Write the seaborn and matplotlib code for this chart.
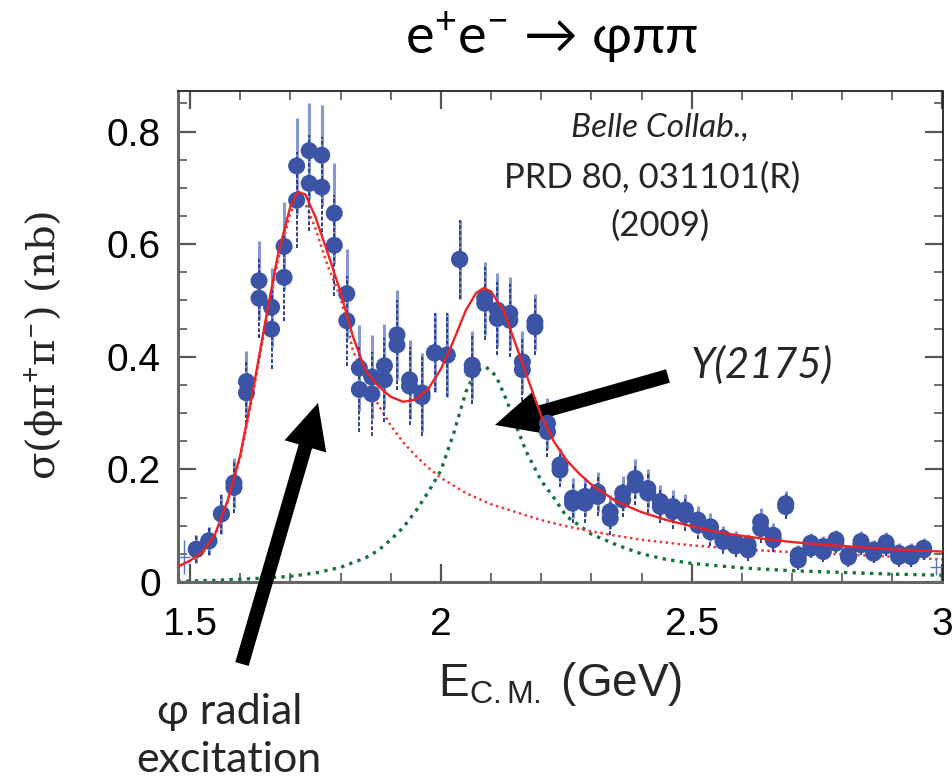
import numpy as np
import pandas as pd
import matplotlib
matplotlib.use("Agg")
import matplotlib.pyplot as plt
from matplotlib.ticker import MultipleLocator, FixedLocator, FuncFormatter
from matplotlib import font_manager
import seaborn as sns

# ---------------- data ----------------
E_bins = [1.5125, 1.5375, 1.5625, 1.5875, 1.6125, 1.6375, 1.6625, 1.6875, 1.7125, 1.7375,
          1.7625, 1.7875, 1.8125, 1.8375, 1.8625, 1.8875, 1.9125, 1.9375, 1.9625, 1.9875,
          2.0125, 2.0375, 2.0625, 2.0875, 2.1125, 2.1375, 2.1625, 2.1875, 2.2125, 2.2375,
          2.2625, 2.2875, 2.3125, 2.3375, 2.3625, 2.3875, 2.4125, 2.4375, 2.4625, 2.4875,
          2.5125, 2.5375, 2.5625, 2.5875, 2.6125, 2.6375, 2.6625, 2.6875, 2.7125, 2.7375,
          2.7625, 2.7875, 2.8125, 2.8375, 2.8625, 2.8875, 2.9125, 2.9375, 2.9625]
sigma_upper = [0.058, 0.073, 0.121, 0.176, 0.356, 0.535, 0.488, 0.596, 0.739, 0.766,
               0.758, 0.655, 0.512, 0.380, 0.364, 0.384, 0.439, 0.359, 0.336, 0.407,
               0.403, 0.573, 0.385, 0.504, 0.483, 0.477, 0.391, 0.462, 0.282, 0.208,
               0.149, 0.152, 0.160, 0.125, 0.158, 0.184, 0.166, 0.143, 0.134, 0.128,
               0.110, 0.098, 0.078, 0.070, 0.066, 0.107, 0.083, 0.139, 0.048, 0.069,
               0.063, 0.075, 0.048, 0.072, 0.057, 0.070, 0.051, 0.051, 0.060]
sigma_lower = [0.058, 0.073, 0.121, 0.168, 0.336, 0.504, 0.449, 0.541, 0.678, 0.708,
               0.701, 0.598, 0.464, 0.342, 0.334, 0.359, 0.421, 0.348, 0.329, 0.407,
               0.403, 0.573, 0.377, 0.495, 0.468, 0.465, 0.377, 0.453, 0.267, 0.199,
               0.140, 0.140, 0.152, 0.113, 0.146, 0.172, 0.158, 0.134, 0.125, 0.119,
               0.101, 0.089, 0.072, 0.064, 0.057, 0.095, 0.075, 0.134, 0.039, 0.060,
               0.054, 0.069, 0.044, 0.066, 0.051, 0.064, 0.045, 0.045, 0.057]
sigma_err = [0.025, 0.025, 0.035, 0.045, 0.055, 0.070, 0.070, 0.078, 0.085, 0.085,
             0.090, 0.090, 0.080, 0.076, 0.075, 0.075, 0.080, 0.070, 0.070, 0.070,
             0.075, 0.070, 0.060, 0.065, 0.065, 0.065, 0.055, 0.050, 0.045, 0.030,
             0.035, 0.035, 0.035, 0.030, 0.030, 0.035, 0.035, 0.030, 0.030, 0.028,
             0.025, 0.025, 0.022, 0.020, 0.020, 0.025, 0.022, 0.022, 0.018, 0.018,
             0.018, 0.018, 0.018, 0.018, 0.018, 0.018, 0.018, 0.018, 0.018]
E_edge = [1.4875, 2.9875]
sigma_edge = [0.045, 0.027]
err_edge = [0.030, 0.015]

# total fit (red solid)
fit_E = [1.475, 1.50, 1.525, 1.55, 1.575, 1.60, 1.625, 1.65, 1.675, 1.70, 1.715, 1.73, 1.75,
         1.775, 1.80, 1.825, 1.85, 1.875, 1.90, 1.925, 1.95, 1.975, 2.00, 2.025, 2.05, 2.07,
         2.085, 2.10, 2.125, 2.15, 2.175, 2.20, 2.225, 2.25, 2.275, 2.30, 2.35, 2.40, 2.45,
         2.50, 2.55, 2.60, 2.65, 2.70, 2.75, 2.80, 2.85, 2.90, 2.95, 3.00]
fit_total = [0.027, 0.038, 0.053, 0.085, 0.145, 0.225, 0.338, 0.462, 0.580, 0.667, 0.693, 0.688,
             0.648, 0.583, 0.515, 0.435, 0.375, 0.348, 0.329, 0.320, 0.324, 0.343, 0.378, 0.428,
             0.483, 0.513, 0.522, 0.516, 0.482, 0.420, 0.357, 0.295, 0.250, 0.217, 0.193, 0.173,
             0.143, 0.124, 0.110, 0.099, 0.089, 0.082, 0.076, 0.071, 0.067, 0.064, 0.061, 0.058,
             0.056, 0.054]
# phi-prime component (red dotted)
phi_E = [1.475, 1.50, 1.525, 1.55, 1.575, 1.60, 1.625, 1.65, 1.675, 1.70, 1.715, 1.73, 1.75,
         1.775, 1.80, 1.825, 1.85, 1.875, 1.90, 1.925, 1.95, 1.975, 2.00, 2.05, 2.10, 2.15,
         2.20, 2.25, 2.30, 2.35, 2.40, 2.50, 2.60, 2.70, 2.80, 2.90, 3.00]
phi_comp = [0.027, 0.037, 0.052, 0.083, 0.142, 0.221, 0.332, 0.455, 0.570, 0.655, 0.680, 0.672,
            0.628, 0.560, 0.505, 0.410, 0.360, 0.315, 0.278, 0.248, 0.224, 0.203, 0.185, 0.158,
            0.138, 0.124, 0.110, 0.099, 0.090, 0.082, 0.075, 0.065, 0.058, 0.053, 0.049, 0.045,
            0.040]
# Y(2175) component (green dotted)
y_E = [1.475, 1.55, 1.60, 1.65, 1.70, 1.75, 1.80, 1.85, 1.875, 1.90, 1.925, 1.95, 1.975, 2.00,
       2.025, 2.05, 2.07, 2.09, 2.11, 2.13, 2.15, 2.17, 2.20, 2.225, 2.25, 2.30, 2.35, 2.40,
       2.45, 2.50, 2.60, 2.70, 2.80, 2.90, 3.00]
y_comp = [0.001, 0.003, 0.005, 0.007, 0.010, 0.016, 0.026, 0.043, 0.056, 0.075, 0.097, 0.126,
          0.160, 0.198, 0.262, 0.338, 0.375, 0.382, 0.366, 0.325, 0.278, 0.232, 0.180, 0.150,
          0.117, 0.085, 0.066, 0.050, 0.040, 0.033, 0.025, 0.020, 0.017, 0.014, 0.012]

# ---------------- style ----------------
sns.set_theme(style="white")
avail = {f.name for f in font_manager.fontManager.ttflist}
num_font = "Liberation Sans Narrow" if "Liberation Sans Narrow" in avail else "Liberation Sans"
humanist = "Lato"
plt.rcParams["font.family"] = [humanist, "DejaVu Sans"]
plt.rcParams["mathtext.fontset"] = "custom"
plt.rcParams["mathtext.rm"] = humanist
plt.rcParams["mathtext.it"] = humanist + ":italic"

W, H = 952, 784
fig = plt.figure(figsize=(W / 100, H / 100), dpi=100)
ax = fig.add_axes([177.5 / W, 1 - 582 / H, (942.5 - 177.5) / W, (582 - 91) / H])

pts = pd.DataFrame({"E": E_bins, "up": sigma_upper, "lo": sigma_lower, "err": sigma_err})
fit = pd.DataFrame({"E": fit_E, "s": fit_total})
phi = pd.DataFrame({"E": phi_E, "s": phi_comp})
yy = pd.DataFrame({"E": y_E, "s": y_comp})

blue = "#3b54a6"
ax.axhline(0, color="#3b5fb0", lw=1.2, zorder=1)

# fit components
sns.lineplot(data=yy, x="E", y="s", ax=ax, color="#16733a", lw=2.4,
             linestyle=(0, (1, 1.6)), sort=False, estimator=None, zorder=2)
sns.lineplot(data=phi, x="E", y="s", ax=ax, color="#ec3b3b", lw=1.8,
             linestyle=(0, (1, 1.4)), sort=False, estimator=None, zorder=2)

# data error bars
ax.errorbar(pts["E"], pts["up"], yerr=pts["err"], fmt="none", ecolor="#8797d4",
            elinewidth=2.2, capsize=0, zorder=3)
eb = ax.errorbar(pts["E"], pts["lo"], yerr=pts["err"], fmt="none", ecolor="#2b3f8c",
                 elinewidth=1.4, capsize=0, zorder=3)
eb[2][0].set_linestyle((0, (2, 1)))
ax.errorbar(E_edge, sigma_edge, yerr=err_edge, xerr=0.0125, fmt="none",
            ecolor="#5a70c0", elinewidth=1.0, capsize=0, zorder=3)

sns.scatterplot(data=pts, x="E", y="lo", ax=ax, color=blue, s=150, edgecolor="none",
                zorder=4)
sns.scatterplot(data=pts, x="E", y="up", ax=ax, color=blue, s=150, edgecolor="none",
                zorder=4)

sns.lineplot(data=fit, x="E", y="s", ax=ax, color="#ee2222", lw=1.7,
             sort=False, estimator=None, zorder=5)

ax.set_xlim(1.475, 3.0)
ax.set_ylim(0, 0.872)
ax.set_xlabel("")
ax.set_ylabel("")

ax.xaxis.set_major_locator(FixedLocator([1.5, 2.0, 2.5, 3.0]))
ax.xaxis.set_minor_locator(MultipleLocator(0.1))
ax.yaxis.set_major_locator(MultipleLocator(0.2))
ax.yaxis.set_minor_locator(MultipleLocator(0.05))
fmt = FuncFormatter(lambda v, p: "%g" % round(v, 3))
ax.xaxis.set_major_formatter(fmt)
ax.yaxis.set_major_formatter(fmt)
ax.tick_params(which="both", direction="in", top=True, right=True, bottom=True, left=True,
               colors="#555555")
ax.tick_params(which="major", length=13, width=1.6)
ax.tick_params(which="minor", length=6.5, width=1.2)
ax.tick_params(axis="x", which="major", pad=18, labelsize=28, labelcolor="black")
ax.tick_params(axis="y", which="major", pad=12, labelsize=28, labelcolor="black")
for lab in ax.get_xticklabels() + ax.get_yticklabels():
    lab.set_family(num_font)

for side in ["left", "bottom"]:
    ax.spines[side].set_color("#666666")
    ax.spines[side].set_linewidth(2.2)
for side in ["top", "right"]:
    ax.spines[side].set_color("#222222")
    ax.spines[side].set_linewidth(1.3)

def fx(px):
    return px / W

def fy(py):
    return 1 - py / H

TXW = "normal"

# title
fig.text(fx(552), fy(36), "e$^{+}$e$^{-}$ \u2192 \u03c6\u03c0\u03c0", ha="center", va="center",
         fontsize=39, color="black", weight=TXW)

# axis labels
fig.text(fx(560), fy(684), "E$_{\\mathregular{C.M.}}$ (GeV)", ha="center", va="center",
         fontsize=33, family=num_font)
fig.text(fx(44), fy(345), "\u03c3(\u03d5\u03c0$^{+}$\u03c0$^{-}$) (nb)", ha="center",
         va="center", rotation=90, fontsize=29, family=["DejaVu Serif", "DejaVu Sans"])

# reference text
fig.text(fx(660), fy(128), "Belle Collab.,", ha="center", va="center", fontsize=24,
         style="italic", weight=TXW)
fig.text(fx(652), fy(178), "PRD 80, 031101(R)", ha="center", va="center", fontsize=25,
         weight=TXW)
fig.text(fx(660), fy(226), "(2009)", ha="center", va="center", fontsize=25, weight=TXW)

# annotations
fig.text(fx(762), fy(365), "Y(2175)", ha="center", va="center", fontsize=30, style="italic",
         weight=TXW)
fig.text(fx(230), fy(712), "\u03c6 radial", ha="center", va="center", fontsize=31, weight=TXW)
fig.text(fx(229), fy(760), "excitation", ha="center", va="center", fontsize=31, weight=TXW)

arrow_style = "simple,head_length=1.3,head_width=1.25,tail_width=0.4"
ax.annotate("", xy=(318, H - 403), xycoords="figure pixels", xytext=(242, H - 664),
            textcoords="figure pixels",
            arrowprops=dict(arrowstyle=arrow_style, mutation_scale=25, color="black", lw=0,
                            shrinkA=0, shrinkB=0), annotation_clip=False)
ax.annotate("", xy=(495, H - 425), xycoords="figure pixels", xytext=(668, H - 376),
            textcoords="figure pixels",
            arrowprops=dict(arrowstyle=arrow_style, mutation_scale=25, color="black", lw=0,
                            shrinkA=0, shrinkB=0), annotation_clip=False)

fig.savefig("out.png", dpi=100)
